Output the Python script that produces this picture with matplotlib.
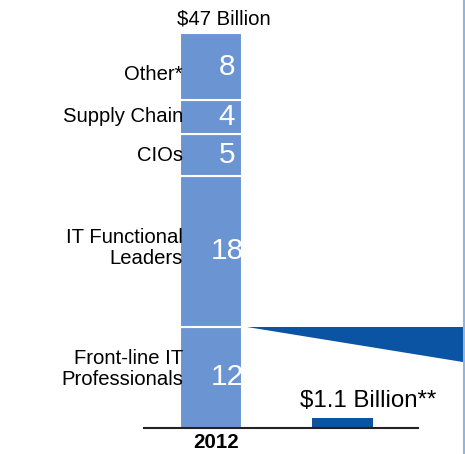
import matplotlib
matplotlib.use("Agg")
import matplotlib.pyplot as plt
from matplotlib.patches import Polygon
import numpy as np

plt.rcParams['font.family'] = ['Liberation Sans', 'DejaVu Sans']

# Spending by buyer group, 2012 (billions of dollars), stacked bottom to top
segments = ["Front-line IT\nProfessionals", "IT Functional\nLeaders", "CIOs", "Supply Chain", "Other*"]
values = [12, 18, 5, 4, 8]
total_label = "$47 Billion"

# Comparison bar
small_value = 1.1
small_label = "$1.1 Billion**"
year_label = "2012"

light_blue = "#6b94d3"
dark_blue = "#0b53a3"

fig = plt.figure(figsize=(4.65, 4.54), dpi=100)
fig.patch.set_facecolor("white")
ax = fig.add_axes([144 / 465, 26.5 / 454, 274 / 465, 394.5 / 454])
ax.set_xlim(-0.5095, 1.5741)
ax.set_ylim(0, sum(values))

bar_w = 0.47
bottoms = np.concatenate([[0], np.cumsum(values)[:-1]])
ax.bar(np.zeros(len(values)), values, bottom=bottoms, width=bar_w,
       color=light_blue, edgecolor="white", linewidth=1.5, zorder=2)
ax.bar([1], [small_value], width=0.465, color=dark_blue, linewidth=0, zorder=2)

# Segment values in white, group names to the left of the stack
label_dy = [8, 3, -1, 0, -8]
for name, v, b, dy in zip(segments, values, bottoms, label_dy):
    yc = b + v / 2
    ax.annotate(str(v), (0.122, yc), xytext=(0, 3 * 0.72), textcoords="offset points",
                color="white", fontsize=21.5, ha="center", va="center_baseline",
                annotation_clip=False, zorder=3)
    ax.annotate(name, (-0.213, yc), xytext=(0, dy * 0.72), textcoords="offset points",
                ha="right", va="center", fontsize=14.6, linespacing=1.1,
                color="black", annotation_clip=False, zorder=4)

ax.text(0.097, sum(values) + 0.5, total_label, ha="center", va="bottom",
        fontsize=14.6, color="black", clip_on=False)
ax.text(1.198, small_value + 0.75, small_label, ha="center", va="bottom",
        fontsize=17.3, color="black", clip_on=False)
ax.text(0.04, -0.6, year_label, ha="center", va="top", fontsize=14.8,
        fontweight="bold", color="black", clip_on=False)

# Wedge leading off to the right from the top of the bottom segment
top_y = values[0]
wedge = Polygon([(0.2715, top_y), (1.96, top_y), (1.96, 7.7)], closed=True,
                facecolor=dark_blue, edgecolor="none", clip_on=False, zorder=1)
ax.add_patch(wedge)

for side in ["top", "left", "right"]:
    ax.spines[side].set_visible(False)
ax.spines["bottom"].set_linewidth(1.5)
ax.spines["bottom"].set_color("#222222")
ax.spines["bottom"].set_zorder(5)
ax.set_xticks([])
ax.set_yticks([])
ax.patch.set_alpha(0)

# Thin frame line on the right edge
fig.add_artist(plt.Line2D([463.5 / 465] * 2, [0, 1], color="#8fb6de", linewidth=1.5))

fig.savefig("out.png", dpi=100, facecolor="white")
